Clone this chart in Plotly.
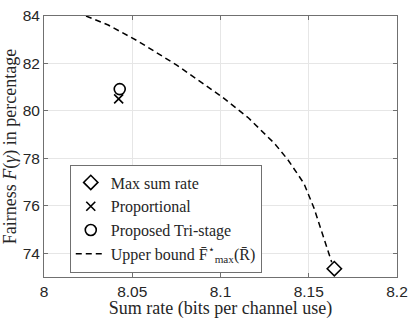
import plotly.graph_objects as go

# Upper bound curve
bound_rate = [8.0238, 8.0364, 8.0530, 8.0752, 8.1011, 8.1159, 8.1307, 8.1381, 8.1473, 8.1529, 8.1630]
bound_fair = [84.0, 83.62, 82.95, 81.93, 80.58, 79.70, 78.62, 77.95, 76.94, 75.92, 73.62]

max_rate = [8.1645]
max_fair = [73.35]
prop_rate = [8.0423]
prop_fair = [80.51]
tri_rate = [8.0429]
tri_fair = [80.92]

x_ticks = [8, 8.05, 8.1, 8.15, 8.2]
x_tick_labels = ["8", "8.05", "8.1", "8.15", "8.2"]
y_ticks = [74, 76, 78, 80, 82, 84]

serif = "Liberation Serif"
sans = "Liberation Sans"

fig = go.Figure()
fig.add_trace(go.Scatter(x=max_rate, y=max_fair, mode="markers", name="Max sum rate",
                         marker=dict(symbol="diamond-open", size=11, color="black", line=dict(width=1.6))))
fig.add_trace(go.Scatter(x=prop_rate, y=prop_fair, mode="markers", name="Proportional",
                         marker=dict(symbol="x-thin-open", size=9, color="black", line=dict(width=1.6))))
fig.add_trace(go.Scatter(x=tri_rate, y=tri_fair, mode="markers", name="Proposed Tri-stage",
                         marker=dict(symbol="circle-open", size=11, color="black", line=dict(width=1.6))))
fig.add_trace(go.Scatter(x=bound_rate, y=bound_fair, mode="lines",
                         name="Upper bound F\u0304<sup>\u22c6</sup><sub>max</sub>(R\u0304)",
                         line=dict(color="black", width=1.5, dash="6px,4px")))

axis_common = dict(showgrid=True, gridcolor="#e6e6e6", gridwidth=1, showline=True,
                   linecolor="#707070", linewidth=1, mirror="ticks", ticks="inside",
                   ticklen=4, tickcolor="#707070", zeroline=False,
                   ticklabeloverflow="allow",
                   tickfont=dict(family=sans, size=15.5, color="#262626"))

fig.update_layout(
    width=415, height=319,
    margin=dict(l=44, r=10, t=7, b=40),
    paper_bgcolor="white", plot_bgcolor="white",
    showlegend=True,
    legend=dict(x=0.073, y=0.224, xanchor="left", yanchor="middle",
                bgcolor="white", bordercolor="#707070", borderwidth=1,
                font=dict(family=serif, size=16, color="#262626"),
                tracegroupgap=0, itemwidth=30),
    xaxis=dict(range=[8, 8.2], tickvals=x_ticks, ticktext=x_tick_labels,
               title=dict(text="Sum rate (bits per channel use)", standoff=0,
                          font=dict(family=serif, size=18, color="#262626")),
               **axis_common),
    yaxis=dict(range=[73, 84], tickvals=y_ticks,
               title=dict(text="Fairness <i>F</i>(<i>\u03b3</i>) in percentage", standoff=2,
                          font=dict(family=serif, size=18, color="#262626")),
               **axis_common),
)

fig.write_html("out.html", config={"displayModeBar": False},
               post_script="document.body.style.margin='0';document.body.style.overflow='hidden';")
